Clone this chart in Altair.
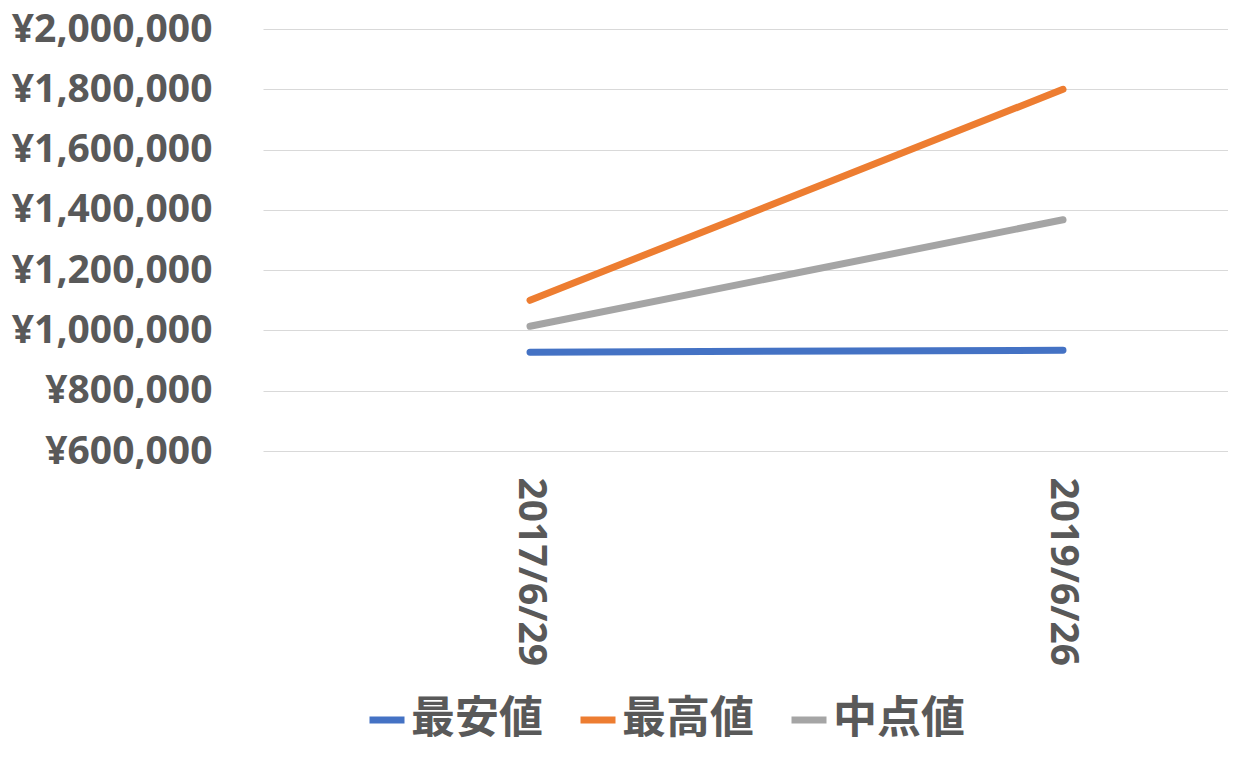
import altair as alt
import pandas as pd

dates = ["2017/6/29", "2019/6/26"]
series_names = ["最安値", "最高値", "中点値"]
min_vals = [928000, 934000]
max_vals = [1100000, 1800000]
mid_vals = [1014000, 1367000]
colors = ["#4472C4", "#ED7D31", "#A5A5A5"]
y_ticks = [600000, 800000, 1000000, 1200000, 1400000, 1600000, 1800000, 2000000]

rows = []
for name, vals in zip(series_names, [min_vals, max_vals, mid_vals]):
    for i, (d, v) in enumerate(zip(dates, vals)):
        rows.append({"idx": i, "date": d, "series": name, "value": v})
df = pd.DataFrame(rows)

label_expr = "[" + ",".join('"%s"' % d for d in dates) + "][datum.value]"

chart = (
    alt.Chart(df)
    .mark_line(strokeWidth=7, strokeCap="round")
    .encode(
        x=alt.X(
            "idx:Q",
            scale=alt.Scale(domain=[-0.501, 1.3096], nice=False, zero=False),
            axis=alt.Axis(
                title=None,
                values=[0, 1],
                labelExpr=label_expr,
                labelAngle=90,
                labelFont="Noto Sans",
                labelFontWeight="bold",
                labelFontSize=39,
                labelColor="#595959",
                labelPadding=26,
                labelLimit=400,
                labelFlush=False,
                labelOverlap=False,
                domain=False,
                ticks=False,
                grid=False,
            ),
        ),
        y=alt.Y(
            "value:Q",
            scale=alt.Scale(domain=[600000, 2000000], nice=False, zero=False),
            axis=alt.Axis(
                title=None,
                values=y_ticks,
                labelExpr='"¥" + format(datum.value, ",")',
                labelFont="Noto Sans",
                labelFontWeight="bold",
                labelFontSize=39,
                labelColor="#595959",
                labelPadding=51,
                labelLimit=400,
                labelOverlap=False,
                domain=False,
                ticks=False,
                grid=True,
                gridColor="#D9D9D9",
                gridWidth=1,
            ),
        ),
        color=alt.Color(
            "series:N",
            sort=series_names,
            scale=alt.Scale(domain=series_names, range=colors),
            legend=alt.Legend(
                title=None,
                orient="none",
                direction="horizontal",
                legendX=102,
                legendY=669,
                symbolType="stroke",
                symbolSize=1225,
                symbolStrokeWidth=7,
                labelFont="Noto Sans CJK JP",
                labelFontWeight="bold",
                labelFontSize=44,
                labelColor="#595959",
                labelOffset=2,
                columnPadding=23,
                labelLimit=400,
            ),
        ),
        detail="series:N",
    )
    .properties(
        width=965,
        height=422,
        autosize=alt.AutoSizeParams(type="none"),
        padding={"left": 255, "top": 21, "right": 0, "bottom": 292},
    )
    .configure_view(stroke=None)
)

chart.save("out.html", embed_options={"renderer": "svg", "actions": False})
